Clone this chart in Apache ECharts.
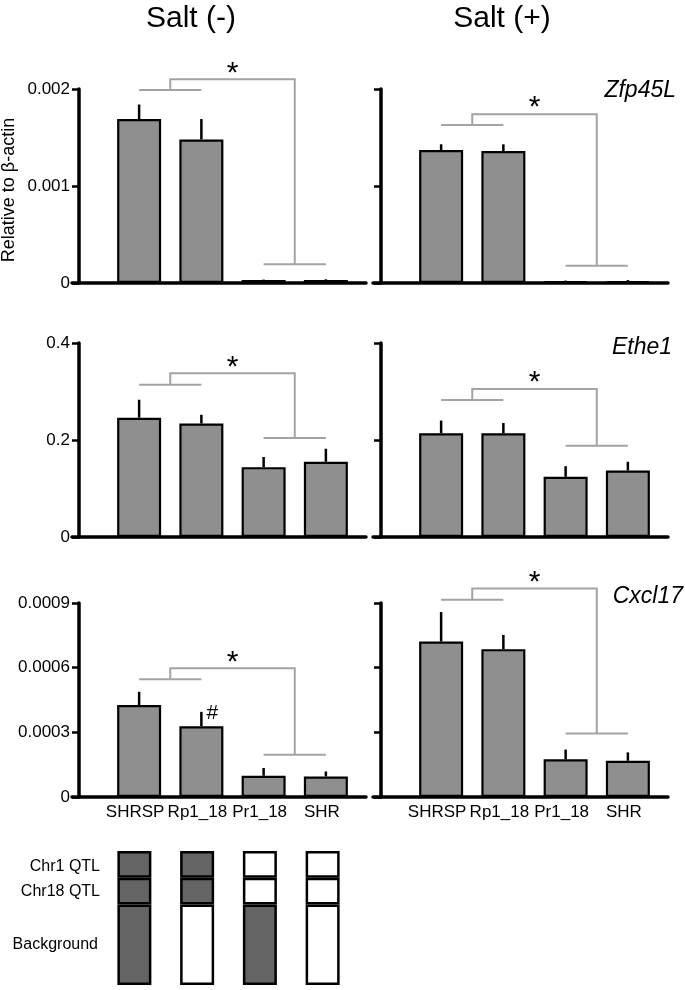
<!DOCTYPE html>
<html>
<head>
<meta charset="utf-8">
<script src="https://cdn.jsdelivr.net/npm/echarts@6/dist/echarts.min.js"></script>
<style>
html,body{margin:0;padding:0;background:#fff;}
#c{width:685px;height:990px;}
</style>
</head>
<body>
<div id="c"></div>
<script>
// ---------- data ----------
const categories = ['SHRSP', 'Rp1_18', 'Pr1_18', 'SHR'];

const zfpSaltNeg    = [0.00169, 0.00148, 0.00003, 0.00003];
const zfpSaltNegErr = [0.00015, 0.00021, 0.000005, 0.000008];
const zfpSaltPos    = [0.00137, 0.00136, 0.00002, 0.00002];
const zfpSaltPosErr = [0.00006, 0.00007, 0.000005, 0.00001];

const etheSaltNeg    = [0.246, 0.234, 0.144, 0.155];
const etheSaltNegErr = [0.037, 0.018, 0.021, 0.027];
const etheSaltPos    = [0.214, 0.214, 0.124, 0.137];
const etheSaltPosErr = [0.026, 0.021, 0.022, 0.018];

const cxclSaltNeg    = [0.000427, 0.000328, 0.0000985, 0.0000953];
const cxclSaltNegErr = [0.000061, 0.000067, 0.000036, 0.000023];
const cxclSaltPos    = [0.000721, 0.000686, 0.000175, 0.000168];
const cxclSaltPosErr = [0.000137, 0.000066, 0.000045, 0.000039];

// significance brackets: [left group level, top level, right group level]
const bracketZfpNeg  = [0.00199, 0.00210, 0.000193];
const bracketZfpPos  = [0.00163, 0.00174, 0.000178];
const bracketEtheNeg = [0.314, 0.3375, 0.204];
const bracketEthePos = [0.2825, 0.305, 0.188];
const bracketCxclNeg = [0.000546, 0.000597, 0.000196];
const bracketCxclPos = [0.000915, 0.000967, 0.000295];

const cxclSaltNegMarks = ['', '#', '', ''];
const noMarks = ['', '', '', ''];

const yTicksZfp  = ['0', '0.001', '0.002'];
const yTicksEthe = ['0', '0.2', '0.4'];
const yTicksCxcl = ['0', '0.0003', '0.0006', '0.0009'];
const yMax = [0.002, 0.4, 0.0009];
const yInterval = [0.001, 0.2, 0.0003];
const yTicks = [yTicksZfp, yTicksEthe, yTicksCxcl];

const genes = ['Zfp45L', 'Ethe1', 'Cxcl17'];
const conditions = ['Salt (-)', 'Salt (+)'];

// genotype (1 = SHRSP-derived, dark; 0 = SHR-derived, white)
const qtlRows = ['Chr1 QTL', 'Chr18 QTL', 'Background'];
const genoChr1 = [1, 1, 0, 0];
const genoChr18 = [1, 1, 0, 0];
const genoBackground = [1, 0, 1, 0];
const segBackground = [3, 3, 3, 3];
const segChr18 = [1, 1, 1, 1];
const segChr1 = [1, 1, 1, 1];

// ---------- layout ----------
const FONT = "'Liberation Sans', Arial, Helvetica, sans-serif";
const rowTop = [89, 343, 603];
const rowBottom = [283, 537, 797];
const colAxisX = [79, 381];
const colLineStart = [72, 373];
const colLineEnd = [366, 668];
const colBandStart = [108, 410];
const bandWidth = 249;

const panels = [
  {row: 0, col: 0, v: zfpSaltNeg, e: zfpSaltNegErr, b: bracketZfpNeg, m: noMarks},
  {row: 0, col: 1, v: zfpSaltPos, e: zfpSaltPosErr, b: bracketZfpPos, m: noMarks},
  {row: 1, col: 0, v: etheSaltNeg, e: etheSaltNegErr, b: bracketEtheNeg, m: noMarks},
  {row: 1, col: 1, v: etheSaltPos, e: etheSaltPosErr, b: bracketEthePos, m: noMarks},
  {row: 2, col: 0, v: cxclSaltNeg, e: cxclSaltNegErr, b: bracketCxclNeg, m: cxclSaltNegMarks},
  {row: 2, col: 1, v: cxclSaltPos, e: cxclSaltPosErr, b: bracketCxclPos, m: noMarks}
];

const grid = [], xAxis = [], yAxis = [], series = [];

panels.forEach((p, k) => {
  const top = rowTop[p.row], h = rowBottom[p.row] - rowTop[p.row];
  // frame grid (axis lines, y ticks, labels)
  grid.push({left: colLineStart[p.col], top: top, width: colLineEnd[p.col] - colLineStart[p.col], height: h});
  xAxis.push({gridIndex: 2 * k, type: 'value', min: 0, max: 1,
    axisLine: {show: true, onZero: false, lineStyle: {color: '#000', width: 3.5}},
    axisTick: {show: false}, axisLabel: {show: false}, splitLine: {show: false}});
  const ticks = yTicks[p.row];
  yAxis.push({gridIndex: 2 * k, type: 'value', min: 0, max: yMax[p.row], interval: yInterval[p.row],
    offset: -(colAxisX[p.col] - colLineStart[p.col]),
    axisLine: {show: true, lineStyle: {color: '#000', width: 3.5}},
    axisTick: {show: true, length: 7, lineStyle: {color: '#000', width: 2.5}},
    axisLabel: {show: p.col === 0, margin: 9, color: '#000', fontSize: 17, fontFamily: FONT,
      formatter: (val, idx) => ticks[idx]},
    splitLine: {show: false}});
  // bar grid
  grid.push({left: colBandStart[p.col], top: top, width: bandWidth, height: h});
  xAxis.push({gridIndex: 2 * k + 1, type: 'category', data: categories,
    axisLine: {show: false}, axisTick: {show: false},
    axisLabel: {show: p.row === 2, margin: 7, color: '#000', fontSize: 17, fontFamily: FONT, interval: 0,
      padding: [0, 8, 0, 0]}});
  yAxis.push({gridIndex: 2 * k + 1, type: 'value', min: 0, max: yMax[p.row], show: false, splitLine: {show: false}});

  const ai = 2 * k + 1;
  series.push({type: 'bar', xAxisIndex: ai, yAxisIndex: ai, data: p.v, barWidth: 44,
    itemStyle: {color: '#8f8f8f', borderColor: '#000', borderWidth: 2.2}, silent: true, z: 2});
  series.push({type: 'custom', xAxisIndex: ai, yAxisIndex: ai, clip: false, z: 3,
    data: p.v.map((v, i) => [i, v, v + p.e[i]]),
    renderItem: (params, api) => {
      const i = api.value(0);
      const a = api.coord([i, api.value(1)]);
      const b = api.coord([i, api.value(2)]);
      const children = [{type: 'line', shape: {x1: a[0], y1: a[1], x2: b[0], y2: b[1]},
        style: {stroke: '#000', lineWidth: 2.5}}];
      const mk = p.m[params.dataIndex];
      if (mk) children.push({type: 'text', style: {text: mk, x: b[0] + 5, y: b[1] + 1,
        fontSize: 21, fontFamily: FONT, fill: '#000', textAlign: 'left', textVerticalAlign: 'middle'}});
      return {type: 'group', children: children};
    }});
  series.push({type: 'custom', xAxisIndex: ai, yAxisIndex: ai, clip: false, z: 4,
    data: [p.b],
    renderItem: (params, api) => {
      const l = api.value(0), t = api.value(1), r = api.value(2);
      const c0 = api.coord([0, l]), c1 = api.coord([1, l]);
      const c2 = api.coord([2, r]), c3 = api.coord([3, r]);
      const yt = api.coord([0, t])[1];
      const m01 = (c0[0] + c1[0]) / 2, m23 = (c2[0] + c3[0]) / 2;
      const st = {stroke: '#a3a3a3', lineWidth: 2, fill: null};
      return {type: 'group', children: [
        {type: 'line', shape: {x1: c0[0], y1: c0[1], x2: c1[0], y2: c1[1]}, style: st},
        {type: 'polyline', shape: {points: [[m01, c0[1]], [m01, yt], [m23, yt], [m23, c2[1]]]}, style: st},
        {type: 'line', shape: {x1: c2[0], y1: c2[1], x2: c3[0], y2: c3[1]}, style: st},
        {type: 'text', style: {text: '*', x: (m01 + m23) / 2, y: yt + 9, fontSize: 30, fontFamily: FONT,
          fill: '#000', textAlign: 'center', textVerticalAlign: 'bottom'}}
      ]};
    }});
});

// QTL genotype boxes
const qg = grid.length;
grid.push({left: 103, top: 851, width: 251, height: 134});
xAxis.push({gridIndex: qg, type: 'category', data: categories, show: false});
yAxis.push({gridIndex: qg, type: 'value', min: 0, max: 5, show: false, splitLine: {show: false}});
const qtlColor = g => g ? '#646464' : '#ffffff';
[[segBackground, genoBackground], [segChr18, genoChr18], [segChr1, genoChr1]].forEach(([seg, geno]) => {
  series.push({type: 'bar', stack: 'qtl', xAxisIndex: qg, yAxisIndex: qg, barWidth: 34, silent: true,
    data: seg.map((s, i) => ({value: s, itemStyle: {color: qtlColor(geno[i])}})),
    itemStyle: {borderColor: '#000', borderWidth: 2.5}});
});

const txt = (text, x, y, size, align, extra) => Object.assign({type: 'text', x: x, y: y,
  style: {text: text, fontSize: size, fontFamily: FONT, fill: '#000', textAlign: align, textVerticalAlign: 'middle'}}, extra || {});

const graphic = [
  txt(conditions[0], 191, 19, 30, 'center'),
  txt(conditions[1], 502, 19, 30, 'center'),
  {type: 'text', x: 9, y: 190, rotation: Math.PI / 2,
    style: {text: 'Relative to β-actin', fontSize: 18, fontFamily: FONT, fill: '#000', textAlign: 'center', textVerticalAlign: 'middle'}},
  txt(genes[0], 676, 91, 23, 'right'),
  txt(genes[1], 672, 348, 23, 'right'),
  txt(genes[2], 683, 597, 23, 'right'),
  txt(qtlRows[0], 100, 867, 16, 'right'),
  txt(qtlRows[1], 100, 892, 16, 'right'),
  txt(qtlRows[2], 98, 945, 16, 'right')
];
graphic[3].style.fontStyle = 'italic';
graphic[4].style.fontStyle = 'italic';
graphic[5].style.fontStyle = 'italic';

const chart = echarts.init(document.getElementById('c'), null, {renderer: 'canvas'});
chart.setOption({animation: false, backgroundColor: '#fff', grid, xAxis, yAxis, series, graphic});
</script>
</body>
</html>
